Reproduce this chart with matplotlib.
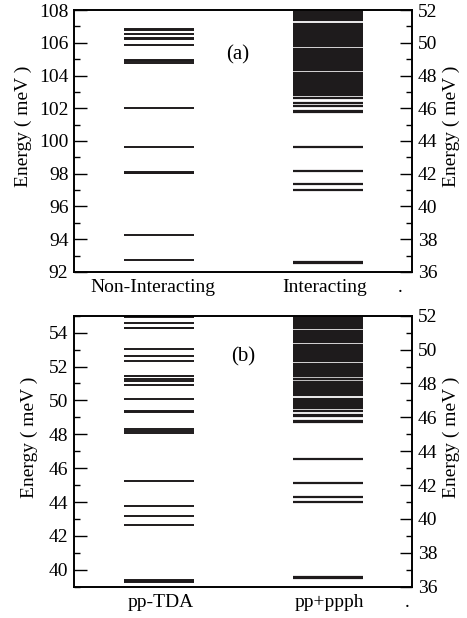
import matplotlib
matplotlib.use("Agg")
import matplotlib.pyplot as plt
from matplotlib.ticker import MultipleLocator

plt.rcParams['font.family'] = ['Liberation Serif', 'DejaVu Serif']
plt.rcParams['font.size'] = 14

# ---------------- data ----------------
# panel (a)
a_xlabels = ["Non-Interacting", "Interacting", "."]
a_label_pos = [0.93, 2.97, 3.86]
a_noninteracting = [106.85, 106.75, 106.55, 106.3, 106.22, 105.85, 104.95, 104.9,
                    104.75, 102.0, 99.62, 98.12, 98.07, 98.02, 94.25, 92.72]
a_interacting = [36.53, 36.61, 41.0, 41.36, 42.17, 43.61,
                 45.78, 45.85, 46.15, 46.3, 46.6, 46.8, 46.95,
                 47.05, 47.15, 47.25, 47.35, 47.45, 47.55, 47.65, 47.75, 47.85,
                 47.95, 48.05, 48.13,
                 48.33, 48.37,
                 48.52, 48.62, 48.72, 48.82, 48.92, 49.02, 49.12, 49.22, 49.32,
                 49.42, 49.52, 49.62,
                 49.8, 49.9, 50.0, 50.1, 50.2, 50.3, 50.4, 50.5, 50.6, 50.7,
                 50.8, 50.9, 51.0, 51.1, 51.15,
                 51.36, 51.44, 51.54, 51.64, 51.74, 51.84, 51.94, 52.0]

# panel (b)
b_xlabels = ["pp-TDA", "pp+ppph", "."]
b_label_pos = [1.03, 3.02, 3.94]
b_pptda = [54.9, 54.55, 54.3, 54.25, 53.02, 52.62, 52.31, 51.44, 51.24, 51.13,
           50.93, 50.08, 49.39, 49.31, 48.29, 48.22, 48.05, 45.24, 43.77, 43.2,
           42.63, 39.4, 39.35, 39.3]
b_ppppph = [36.5, 36.59, 40.99, 41.28, 42.14, 43.52,
            45.72, 45.78, 46.1, 46.16, 46.38, 46.54, 46.67, 46.8, 46.9, 47.0, 47.1,
            47.32, 47.42, 47.52, 47.62, 47.72, 47.82, 47.92, 48.02, 48.08,
            48.26, 48.29,
            48.44, 48.54, 48.64, 48.74, 48.84, 48.94, 49.04, 49.12, 49.17,
            49.33, 49.42, 49.52, 49.62, 49.72, 49.82, 49.92, 50.02, 50.12, 50.22, 50.29,
            50.45, 50.54, 50.64, 50.74, 50.84, 50.94, 51.04, 51.07,
            51.26, 51.34, 51.44, 51.54, 51.64, 51.74, 51.84, 51.94, 52.0]

col_pos = [1.0, 3.0]
half_w = 0.414
line_color = '#1e1b1c'

fig = plt.figure(figsize=(4.67, 6.18), dpi=100)


def style_axis(ax):
    ax.tick_params(axis='y', which='major', direction='in', length=9, width=1.0,
                   pad=4, labelsize=14)
    ax.tick_params(axis='y', which='minor', direction='in', length=4.5, width=1.0)
    for s in ax.spines.values():
        s.set_linewidth(1.2)


def panel(rect, left_vals, right_vals, left_lim, left_major, right_lim,
          xlabels, label_pos, tag, tag_xy, lab_left, lab_right):
    ax = fig.add_axes(rect)
    ax.set_xlim(0, 4)
    ax.set_ylim(*left_lim)
    ax.hlines(left_vals, col_pos[0] - half_w, col_pos[0] + half_w,
              colors=line_color, linewidth=1.4)
    ax.yaxis.set_major_locator(MultipleLocator(2))
    ax.yaxis.set_minor_locator(MultipleLocator(1))
    ax.set_yticks(left_major)
    ax.set_xticks(label_pos)
    ax.set_xticklabels(xlabels)
    ax.tick_params(axis='x', length=0, pad=5, labelsize=14)
    ax.set_ylabel("Energy ( meV )", fontsize=14)
    ax.yaxis.set_label_coords(*lab_left)
    style_axis(ax)

    ax2 = ax.twinx()
    ax2.set_ylim(*right_lim)
    ax2.hlines(right_vals, col_pos[1] - half_w, col_pos[1] + half_w,
               colors=line_color, linewidth=1.6)
    ax2.yaxis.set_major_locator(MultipleLocator(2))
    ax2.yaxis.set_minor_locator(MultipleLocator(1))
    ax2.set_ylabel("Energy ( meV )", fontsize=14, rotation=90)
    ax2.yaxis.set_label_coords(*lab_right)
    style_axis(ax2)
    ax.text(tag_xy[0], tag_xy[1], tag, transform=ax.transAxes,
            ha='center', va='center', fontsize=15)
    return ax, ax2


panel([0.1585, 0.5599, 0.7238, 0.4239], a_noninteracting, a_interacting,
      (92, 108), list(range(92, 109, 2)), (36, 52), a_xlabels, a_label_pos,
      "(a)", (0.485, 0.83), (-0.123, 0.557), (1.092, 0.557))
panel([0.1585, 0.0506, 0.7238, 0.4385], b_pptda, b_ppppph,
      (39, 55), list(range(40, 55, 2)), (36, 52), b_xlabels, b_label_pos,
      "(b)", (0.5, 0.85), (-0.108, 0.552), (1.092, 0.552))

fig.savefig("out.png", dpi=100)
